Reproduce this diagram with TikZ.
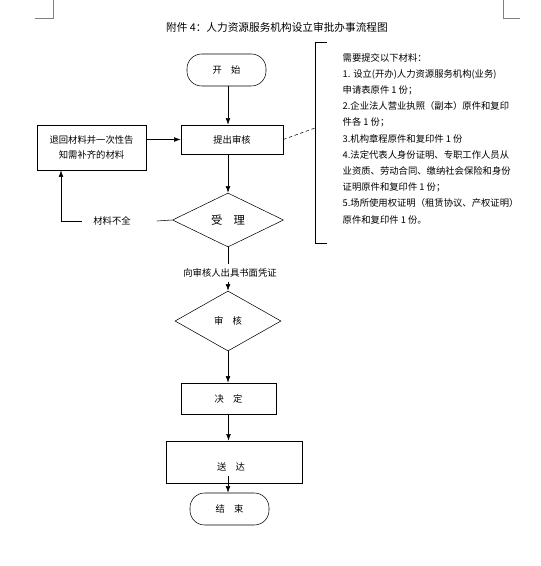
\documentclass[tikz,border=0pt]{standalone}
\usepackage{fontspec}
\setmainfont{Noto Sans CJK SC}
\usetikzlibrary{arrows.meta,shapes.geometric}
\tikzset{
    flowbox/.style={draw,rectangle,inner sep=1pt},
    termbox/.style={draw,rectangle,rounded corners=11pt,inner sep=1pt,minimum width=59.25pt,minimum height=24pt},
    choice/.style={draw,diamond,inner sep=0pt},
    flowarrow/.style={-{Latex[length=5pt,width=3.5pt]}},
}
\begin{document}
\begin{tikzpicture}[x=0.75pt,y=-0.75pt,font=\fontsize{7}{12}\selectfont]
            \useasboundingbox (0,0) rectangle (541,566);
            \draw[gray] (35,18) -- (53,18) -- (53,0);
            \draw[gray] (503,0) -- (503,18) -- (520,18);

            \node[font=\fontsize{8}{10}\selectfont] (title) at (277,27) {附件 4：人力资源服务机构设立审批办事流程图};

            \node[termbox] (start) at (226.5,70) {开\quad 始};
            \node[flowbox,minimum width=76.5pt,minimum height=21.75pt] (apply) at (232,139.5) {提出审核\hspace{16pt}};
            \node[flowbox,minimum width=81.75pt,minimum height=33.75pt,align=center,font=\fontsize{7}{11.25}\selectfont] (return) at (91.5,147.5) {退回材料并一次性告\\知需补齐的材料};
            \node[choice,minimum width=83.25pt,minimum height=40.5pt,font=\fontsize{8.5}{10}\selectfont] (accept) at (228,220) {受\quad 理};
            \node (lack) at (112,221) {材料不全};
            \node (cert) at (230,273) {向审核人出具书面凭证};
            \node[choice,minimum width=79.5pt,minimum height=45pt] (review) at (228,321) {审\quad 核};
            \node[flowbox,minimum width=71.25pt,minimum height=23.25pt] (decide) at (228.5,398.5) {决\quad 定};
            \node[flowbox,minimum width=102pt,minimum height=31.5pt] (deliver) at (234,462) {};
            \node (sendtext) at (231,467) {送\quad 达};
            \node[termbox] (finish) at (229.5,509) {结\quad 束};

            \coordinate (spine) at (228,0);
            \coordinate (lackR) at (157,221);
            \coordinate (lackL) at (82,221);
            \coordinate (turn) at (61,221);
            \coordinate (note) at (315,128);

            \draw[flowarrow] (start.south -| spine) -- (apply.north -| spine);
            \draw[flowarrow] (apply.south -| spine) -- (accept.north);
            \draw (accept.south) -- (cert.north -| accept.south);
            \draw[flowarrow] (cert.south -| review.north) -- (review.north);
            \draw[flowarrow] (review.south) -- (review.south |- decide.north);
            \draw[flowarrow] (decide.south) -- (decide.south |- deliver.north);
            \draw[flowarrow] (sendtext.south -| spine) -- (finish.north -| spine);
            \draw[flowarrow] (return.east |- apply.west) -- (apply.west);
            \draw (accept.west) -- (lackR);
            \draw[flowarrow] (lackL) -- (turn) -- (turn |- return.south);
            \draw[dash pattern=on 2.5pt off 2pt] (apply.east) -- (note);

            \draw (327,42) -- (315,42) -- (315,243) -- (327,243);
            \node[anchor=north west,align=left,font=\fontsize{7}{12.15}\selectfont] (needs) at (338,48.5)
                {需要提交以下材料：\\
                 1. 设立(开办)人力资源服务机构(业务)\\
                 申请表原件 1 份；\\
                 2.企业法人营业执照（副本）原件和复印\\
                 件各 1 份；\\
                 3.机构章程原件和复印件 1 份\\
                 4.法定代表人身份证明、专职工作人员从\\
                 业资质、劳动合同、缴纳社会保险和身份\\
                 证明原件和复印件 1 份；\\
                 5.场所使用权证明（租赁协议、产权证明）\\
                 原件和复印件 1 份。};
        \end{tikzpicture}
\end{document}
